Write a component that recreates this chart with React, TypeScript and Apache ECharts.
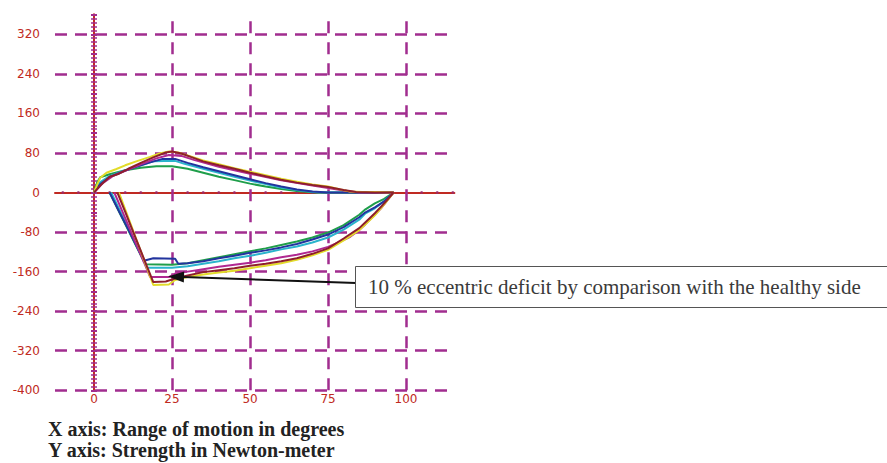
import React, { useEffect, useRef } from "react";
import * as echarts from "echarts";

// Torque curves: [angle in degrees, torque in N·m], concentric branch then eccentric branch
const yellowConcentric = [[0, 0], [1, 16], [2, 30], [4, 40], [7, 47], [10, 55], [14, 64], [18, 72], [21, 79], [24, 83], [27, 81], [30, 75], [35, 65], [40, 57], [45, 49], [50, 42], [55, 35], [60, 28], [65, 22], [70, 16], [75, 12], [79, 6], [82, 2], [86, 1], [90, 1], [96, 0]];
const yellowEccentric = [[96, 0], [93, -24], [90, -46], [87, -64], [85, -76], [80, -97], [75, -116], [70, -127], [65, -136], [60, -143], [55, -148], [50, -153], [45, -158], [40, -162], [35, -166], [30, -171], [26, -177], [24, -186], [19, -187], [17, -153], [15, -119], [12, -68], [10, -34], [8, 0]];

const maroonConcentric = [[0, 0], [2, 14], [5, 32], [8, 38], [11, 48], [15, 60], [19, 71], [23, 81], [25, 83], [28, 79], [31, 72], [35, 63], [40, 55], [45, 48], [50, 40], [55, 33], [60, 26], [65, 20], [70, 15], [75, 11], [80, 5], [84, 1], [90, 0], [96, 0]];
const maroonEccentric = [[96, 0], [93, -22], [90, -42], [87, -60], [85, -72], [80, -93], [75, -113], [70, -124], [65, -133], [60, -139], [55, -144], [50, -148], [45, -153], [40, -157], [35, -161], [30, -168], [26, -174], [23, -180], [19, -181], [17, -150], [15, -118], [12, -71], [10, -39], [7.5, 0]];

const magentaConcentric = [[0, 0], [3, 20], [6, 33], [10, 44], [15, 57], [20, 69], [24, 76], [28, 74], [32, 66], [36, 59], [40, 52], [50, 38], [60, 25], [70, 14], [75, 9], [80, 4], [85, 0], [96, 0]];
const magentaEccentric = [[96, 0], [94, -16], [92, -32], [90, -45], [87, -64], [85, -76], [82, -90], [78, -102], [75, -110], [70, -119], [65, -126], [60, -131], [55, -137], [50, -142], [45, -146], [40, -150], [35, -155], [30, -160], [26, -164], [24, -171], [18, -171], [16, -141], [13, -97], [10, -52], [6.5, 0]];

const blueConcentric = [[0, 0], [2, 17], [5, 31], [9, 42], [13, 51], [18, 61], [22, 68], [26, 68], [30, 60], [35, 51], [40, 43], [45, 35], [50, 27], [55, 19], [60, 12], [65, 6], [70, 2], [75, 0], [96, 0]];
const blueEccentric = [[96, 0], [93, -18], [90, -30], [87, -40], [85, -50], [80, -70], [75, -85], [70, -95], [65, -104], [60, -111], [55, -117], [50, -122], [45, -128], [40, -133], [35, -139], [30, -143], [27, -144], [26, -134], [19, -133], [16, -138], [14, -113], [11, -75], [8, -38], [5, 0]];

const cyanConcentric = [[0, 0], [2, 21], [5, 33], [10, 45], [15, 55], [19, 63], [26, 64], [29, 58], [35, 48], [40, 40], [45, 32], [50, 24], [55, 17], [60, 10], [66, 4], [72, 0], [96, 0]];
const cyanEccentric = [[96, 0], [93, -17], [90, -32], [87, -42], [85, -55], [80, -75], [75, -91], [70, -101], [65, -109], [60, -115], [55, -122], [50, -128], [45, -133], [40, -139], [35, -144], [30, -149], [25, -152], [17, -152], [15, -126], [12, -86], [9, -46], [5.5, 0]];

const greenConcentric = [[0, 0], [1, 20], [2, 31], [5, 37], [10, 45], [15, 50], [20, 53], [25, 53], [30, 48], [35, 40], [40, 32], [45, 25], [50, 18], [55, 12], [60, 7], [65, 3], [71, 0], [96, 0]];
const greenEccentric = [[96, 0], [93, -13], [90, -22], [87, -34], [85, -45], [80, -66], [75, -81], [70, -91], [65, -99], [60, -106], [55, -113], [50, -119], [45, -125], [40, -131], [35, -137], [30, -143], [25, -146], [16.5, -145], [15, -127], [12, -89], [9, -51], [5, 0]];

// Axis decoration values
const angleLabels = [0, 25, 50, 75, 100];
const torqueLabels = [-400, -320, -240, -160, -80, 0, 80, 160, 240, 320];
const angleGrid = [25, 50, 75, 100];
const torqueGrid = [-400, -320, -240, -160, -80, 80, 160, 240, 320];
const angleAxisDots = [-10, -5, 5, 10, 15, 20, 30, 35, 40, 45, 55, 60, 65, 70, 80, 85, 90, 95, 105, 110, 115];

const curves = [
  { name: "Healthy 1", color: "#1f9e4a", conc: greenConcentric, ecc: greenEccentric },
  { name: "Healthy 2", color: "#2ab4cc", conc: cyanConcentric, ecc: cyanEccentric },
  { name: "Healthy 3", color: "#22349e", conc: blueConcentric, ecc: blueEccentric },
  { name: "Injured 1", color: "#b02891", conc: magentaConcentric, ecc: magentaEccentric },
  { name: "Injured 2", color: "#e2dc2a", conc: yellowConcentric, ecc: yellowEccentric },
  { name: "Injured 3", color: "#8e1f2c", conc: maroonConcentric, ecc: maroonEccentric },
];

const RED = "#c02a22";
const PURPLE = "#a12d8f";

export default function App() {
  const ref = useRef<HTMLDivElement>(null);

  useEffect(() => {
    if (!ref.current) return;
    const chart = echarts.init(ref.current, undefined, { renderer: "svg" });

    const axisBase = {
      type: "value" as const,
      min: -12.5,
      max: 115.5,
      interval: 12.5,
      splitLine: { show: false },
    };
    const yBase = {
      type: "value" as const,
      min: -400,
      max: 360,
      interval: 40,
      splitLine: { show: false },
    };

    const lineSeries = curves.map((c) => ({
      name: c.name,
      type: "line",
      data: [...c.conc, ...c.ecc],
      showSymbol: false,
      symbol: "none",
      lineStyle: { color: c.color, width: 2 },
      z: 5,
    }));

    chart.setOption({
      animation: false,
      grid: { left: 55, right: 432.6, top: 14.5, bottom: 72.7, containLabel: false },
      xAxis: [
        {
          ...axisBase,
          position: "bottom",
          axisLine: { show: false, onZero: false },
          axisTick: { show: false },
          axisLabel: {
            margin: 3,
            color: RED,
            fontFamily: "DejaVu Sans",
            fontSize: 12,
            formatter: (v: number) => (angleLabels.includes(v) ? String(v) : ""),
          },
        },
        {
          ...axisBase,
          position: "top",
          axisLine: { show: true, onZero: true, onZeroAxisIndex: 0, lineStyle: { color: RED, width: 2 } },
          axisTick: { show: false },
          axisLabel: { show: false },
        },
      ],
      yAxis: [
        {
          ...yBase,
          position: "left",
          axisLine: { show: false, onZero: false },
          axisTick: { show: false },
          axisLabel: {
            margin: 15,
            color: RED,
            fontFamily: "DejaVu Sans",
            fontSize: 12,
            formatter: (v: number) => (torqueLabels.includes(v) ? String(v) : ""),
          },
        },
        {
          ...yBase,
          position: "left",
          axisLine: { show: true, onZero: true, onZeroAxisIndex: 0, lineStyle: { color: RED, width: 2 } },
          axisTick: { show: true, length: 3, lineStyle: { color: PURPLE, width: 2 } },
          minorTick: { show: true, splitNumber: 5, length: 3, lineStyle: { color: PURPLE, width: 1.5 } },
          axisLabel: { show: false },
        },
        {
          ...yBase,
          position: "right",
          axisLine: { show: true, onZero: true, onZeroAxisIndex: 0, lineStyle: { color: RED, width: 2 } },
          axisTick: { show: true, length: 3, lineStyle: { color: PURPLE, width: 2 } },
          minorTick: { show: true, splitNumber: 5, length: 3, lineStyle: { color: PURPLE, width: 1.5 } },
          axisLabel: { show: false },
        },
      ],
      series: [
        {
          name: "grid",
          type: "scatter",
          data: angleAxisDots.map((x) => [x, 0]),
          symbol: "circle",
          symbolSize: 3,
          itemStyle: { color: "#9a2a6e" },
          silent: true,
          z: 3,
          markLine: {
            silent: true,
            symbol: "none",
            label: { show: false },
            lineStyle: { color: PURPLE, width: 2.5, type: [12, 8] },
            data: [
              ...torqueGrid.map((v) => ({ yAxis: v })),
              ...angleGrid.map((v) => ({ xAxis: v, lineStyle: { color: PURPLE, width: 2.5, type: [12, 9] } })),
            ],
            z: 1,
          },
        },
        ...lineSeries,
      ],
      graphic: [
        {
          type: "line",
          shape: { x1: 356, y1: 283, x2: 183, y2: 277 },
          style: { stroke: "#111", lineWidth: 2 },
          z: 20,
        },
        {
          type: "polygon",
          shape: { points: [[168, 276.5], [184.2, 271.5], [183.8, 282.5]] },
          style: { fill: "#111" },
          z: 20,
        },
        {
          type: "rect",
          shape: { x: 355.5, y: 266.5, width: 560, height: 41 },
          style: { fill: "#fff", stroke: "#555", lineWidth: 1 },
          z: 20,
        },
        {
          type: "text",
          x: 368,
          y: 287,
          style: {
            text: "10 % eccentric deficit by comparison with the healthy side",
            fontFamily: "Liberation Serif",
            fontSize: 21,
            fill: "#3a3a3a",
            verticalAlign: "middle",
          },
          z: 21,
        },
        {
          type: "text",
          x: 48,
          y: 429,
          style: {
            text: "X axis: Range of motion in degrees",
            fontFamily: "Liberation Serif",
            fontWeight: "bold",
            fontSize: 20,
            fill: "#222",
            verticalAlign: "middle",
          },
          z: 21,
        },
        {
          type: "text",
          x: 48,
          y: 450,
          style: {
            text: "Y axis: Strength in Newton-meter",
            fontFamily: "Liberation Serif",
            fontWeight: "bold",
            fontSize: 20,
            fill: "#222",
            verticalAlign: "middle",
          },
          z: 21,
        },
      ],
    });

    return () => chart.dispose();
  }, []);

  return (
    <div
      ref={ref}
      style={{ position: "absolute", left: 0, top: 0, width: 887, height: 463, background: "#fff" }}
    />
  );
}
